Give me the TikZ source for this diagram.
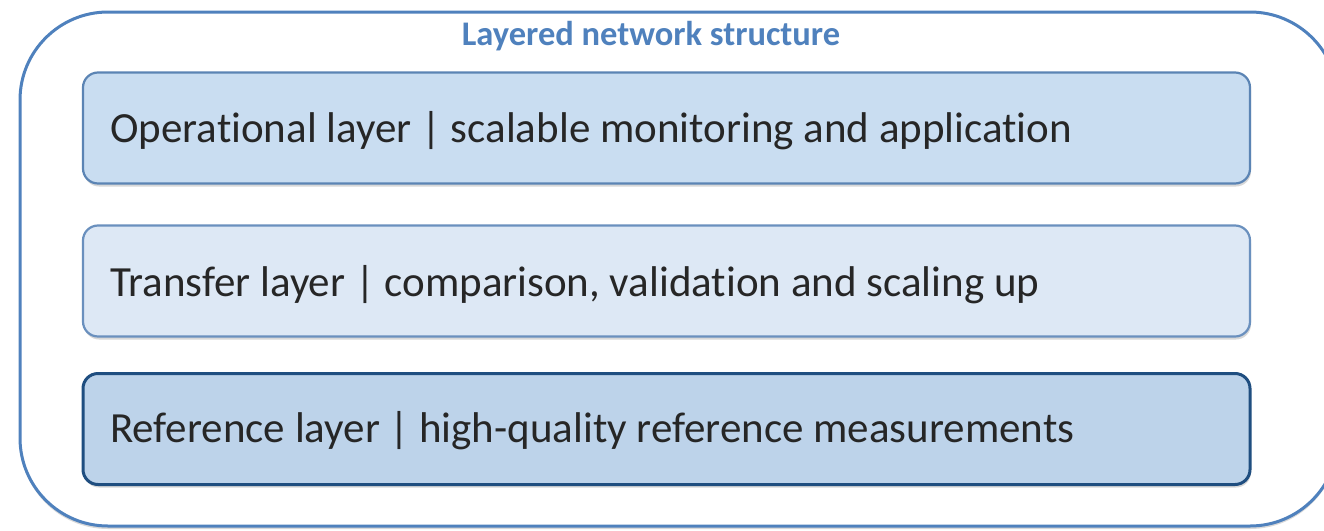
\documentclass[tikz,border=0pt]{standalone}
\usepackage{fontspec}
\setmainfont[Ligatures={NoCommon}]{Carlito}
\usetikzlibrary{shadows}
\definecolor{frameblue}{HTML}{4F81BD}
\definecolor{opfill}{HTML}{C9DDF1}
\definecolor{opdraw}{HTML}{5B84B4}
\definecolor{trfill}{HTML}{DDE8F5}
\definecolor{trdraw}{HTML}{6A90BE}
\definecolor{reffill}{HTML}{BDD3EA}
\definecolor{refdraw}{HTML}{1F4E80}
\definecolor{textgrey}{HTML}{262626}
\tikzset{
  layerbox/.style={rounded corners=15pt, line width=2.2pt, minimum width=1167pt,
    minimum height=111pt, inner sep=0pt,
    drop shadow={shadow xshift=1pt, shadow yshift=-3pt, opacity=0.25, fill=black!60}},
  layertext/.style={anchor=west, inner sep=0pt, text=textgrey,
    font=\fontsize{43}{47}\selectfont},
}
\begin{document}
\begin{tikzpicture}[x=1pt,y=-1pt]
\useasboundingbox (0,0) rectangle (1324,530);
% outer frame of the layered structure, running past the right margin
\begin{scope}
\clip (0,0) rectangle (1324,530);
\draw[draw=frameblue, line width=3pt, rounded corners=88pt, fill=white,
  drop shadow={shadow xshift=0pt, shadow yshift=-3pt, opacity=0.25, fill=black!60}]
  (20,12) rectangle (1338,526);
\end{scope}
\node[font=\bfseries\fontsize{34.5}{38}\selectfont, text=frameblue] (title) at (651,36) {Layered network structure};
% the three layers
\node[layerbox, draw=opdraw, fill=opfill] (op) at (666.5,128) {};
\node[layerbox, draw=trdraw, fill=trfill] (tr) at (666.5,281) {};
\node[layerbox, draw=refdraw, fill=reffill, line width=3pt] (ref) at (666.5,429) {};
\node[layertext] (optext) at (110,131) {Operational layer | scalable monitoring and application};
\node[layertext] (trtext) at (110,285) {Transfer layer | comparison, validation and scaling up};
\node[layertext] (reftext) at (110,431) {Reference layer | high-quality reference measurements};
\end{tikzpicture}
\end{document}
